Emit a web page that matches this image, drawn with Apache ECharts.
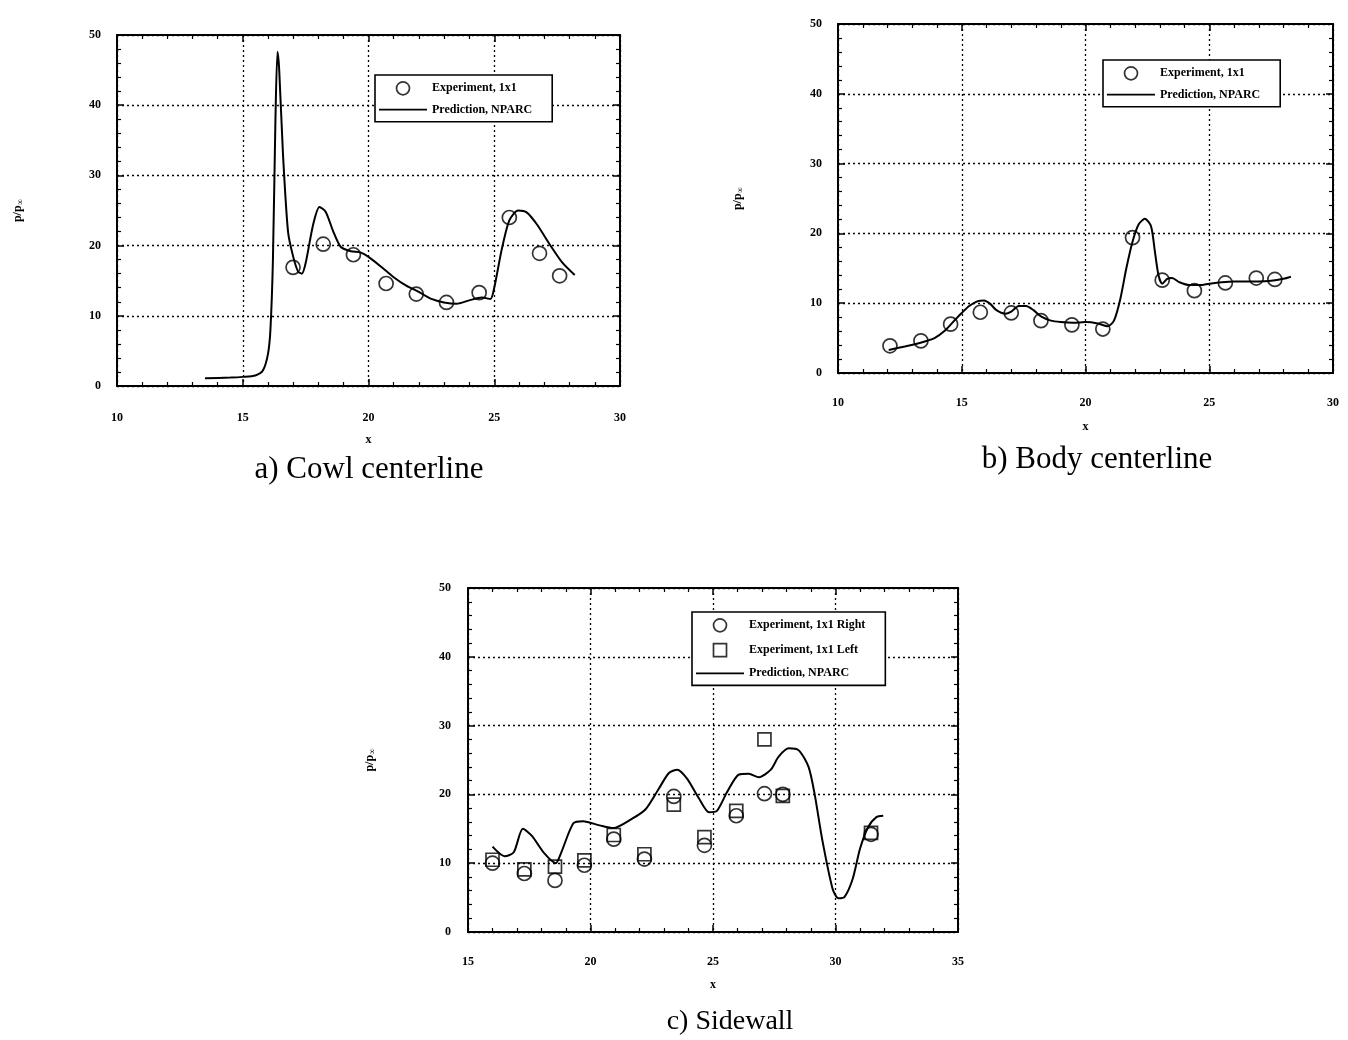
<!DOCTYPE html>
<html>
<head>
<meta charset="utf-8">
<script src="https://cdn.jsdelivr.net/npm/echarts@6/dist/echarts.min.js"></script>
<style>
html,body{margin:0;padding:0;background:#fff;}
#chart{width:1348px;height:1040px;}
</style>
</head>
<body>
<div id="chart"></div>
<script>
// ---- Panel a: Cowl centerline ----
const cowlExpX = [17.0, 18.2, 19.4, 20.7, 21.9, 23.1, 24.4, 25.6, 26.8, 27.6];
const cowlExpY = [16.9, 20.2, 18.7, 14.6, 13.1, 11.9, 13.3, 24.0, 18.9, 15.7];
const cowlPredX = [13.5, 14.5, 15.0, 15.5, 15.8, 16.0, 16.1, 16.2, 16.3, 16.38, 16.45, 16.6, 16.8, 17.0, 17.2, 17.35, 17.5, 17.8, 18.05, 18.3, 18.6, 18.9, 19.3, 19.7, 20.0, 20.5, 21.0, 21.5, 22.0, 22.5, 23.0, 23.5, 24.0, 24.5, 24.85, 25.0, 25.3, 25.6, 25.95, 26.3, 26.7, 27.2, 27.7, 28.2];
const cowlPredY = [1.1, 1.2, 1.3, 1.5, 2.2, 4.5, 8, 18, 38, 47.6, 45, 33, 22, 18.5, 16.3, 16.0, 17.5, 23, 25.5, 24.8, 22, 19.8, 19.2, 19.0, 18.4, 17.0, 15.5, 14.3, 13.4, 12.4, 11.9, 11.7, 12.2, 12.6, 12.4, 14, 19.5, 23.6, 25.0, 24.7, 23, 20.2, 17.6, 15.8];

// ---- Panel b: Body centerline ----
const bodyExpX = [12.1, 13.35, 14.55, 15.75, 17.0, 18.2, 19.45, 20.7, 21.9, 23.1, 24.4, 25.65, 26.9, 27.65];
const bodyExpY = [3.9, 4.6, 7.0, 8.7, 8.6, 7.5, 6.9, 6.3, 19.4, 13.3, 11.8, 12.9, 13.6, 13.4];
const bodyPredX = [12.05, 12.7, 13.3, 13.9, 14.3, 14.7, 15.0, 15.3, 15.65, 15.9, 16.15, 16.4, 16.75, 17.0, 17.3, 17.6, 17.9, 18.2, 18.6, 19.0, 19.5, 20.0, 20.5, 20.9, 21.15, 21.4, 21.65, 21.9, 22.15, 22.4, 22.65, 22.8, 22.95, 23.1, 23.3, 23.5, 23.8, 24.2, 24.6, 25.0, 25.5, 26.0, 26.5, 27.0, 27.5, 28.0, 28.3];
const bodyPredY = [3.3, 3.8, 4.3, 5.0, 6.0, 7.5, 8.6, 9.6, 10.3, 10.4, 9.9, 9.0, 8.5, 8.8, 9.6, 9.6, 9.0, 8.1, 7.5, 7.3, 7.2, 7.3, 7.1, 6.7, 7.5, 10.5, 15, 18.8, 21.3, 22.1, 21.0, 17.5, 14, 12.8, 13.5, 13.6, 13.0, 12.6, 12.6, 12.8, 13.0, 13.1, 13.1, 13.1, 13.2, 13.5, 13.8];

// ---- Panel c: Sidewall ----
const sideExpX = [16.0, 17.3, 18.55, 19.75, 20.95, 22.2, 23.4, 24.65, 25.95, 27.1, 27.85, 31.45];
const sideRightY = [10.0, 8.5, 7.5, 9.7, 13.5, 10.6, 19.7, 12.6, 16.9, 20.1, 20.0, 14.2];
const sideLeftY = [10.5, 9.1, 9.5, 10.4, 14.1, 11.3, 18.5, 13.8, 17.6, 28.0, 19.8, 14.4];
const sidePredX = [16.0, 16.5, 16.87, 17.24, 17.6, 18.1, 18.58, 18.8, 19.3, 19.7, 20.37, 20.93, 21.67, 22.24, 22.8, 23.2, 23.54, 23.94, 24.43, 24.84, 25.16, 25.57, 26.06, 26.46, 26.87, 27.36, 27.68, 28.09, 28.5, 28.9, 29.15, 29.47, 29.88, 30.12, 30.37, 30.7, 31.0, 31.34, 31.67, 31.95];
const sidePredY = [12.4, 11.0, 11.6, 15.0, 14.0, 11.5, 10.0, 11.5, 15.8, 16.1, 15.5, 15.1, 16.4, 17.8, 20.9, 23.1, 23.6, 22.3, 19.4, 17.4, 17.6, 20.3, 22.9, 23.0, 22.5, 23.6, 25.5, 26.7, 26.4, 24.0, 20.0, 13.2, 6.3, 4.9, 5.1, 7.7, 12.1, 15.3, 16.7, 16.9];

// ---- Axis ranges / labels ----
const yRange = [0, 50, 10];
const xRangeA = [10, 30, 5];
const xRangeB = [10, 30, 5];
const xRangeC = [15, 35, 5];
const titles = ['a) Cowl centerline', 'b) Body centerline', 'c) Sidewall'];
const legendA = ['Experiment, 1x1', 'Prediction, NPARC'];
const legendC = ['Experiment, 1x1 Right', 'Experiment, 1x1 Left', 'Prediction, NPARC'];

const zip = (xs, ys) => xs.map((x, i) => [x, ys[i]]);
const FF = "'Liberation Serif', 'Times New Roman', serif";
const lblStyle = {color: '#000', fontFamily: FF, fontWeight: 'bold', fontSize: 12};

function xAxes(g, r, gap, margin) {
  return [{
    type: 'value', gridIndex: g, min: r[0], max: r[1], interval: r[2], position: 'bottom',
    axisLine: {show: true, onZero: false, lineStyle: {color: '#000', width: 2}},
    axisTick: {show: true, inside: true, length: 7, lineStyle: {color: '#000', width: 1.5}},
    minorTick: {show: true, splitNumber: 5, length: 4, lineStyle: {color: '#000', width: 1.2}},
    splitLine: {show: true, lineStyle: {color: '#000', type: [2, 3], width: 1.3}},
    axisLabel: Object.assign({margin: margin}, lblStyle),
    name: 'x', nameLocation: 'middle', nameGap: gap,
    nameTextStyle: {color: '#000', fontFamily: FF, fontWeight: 'bold', fontSize: 12}
  }, {
    type: 'value', gridIndex: g, min: r[0], max: r[1], interval: r[2], position: 'top',
    axisLine: {show: true, onZero: false, lineStyle: {color: '#000', width: 2}},
    axisTick: {show: true, inside: true, length: 7, lineStyle: {color: '#000', width: 1.5}},
    minorTick: {show: true, splitNumber: 5, length: 4, lineStyle: {color: '#000', width: 1.2}},
    splitLine: {show: false}, axisLabel: {show: false}
  }];
}
function yAxes(g, gap, margin) {
  return [{
    type: 'value', gridIndex: g, min: yRange[0], max: yRange[1], interval: yRange[2], position: 'left',
    axisLine: {show: true, onZero: false, lineStyle: {color: '#000', width: 2}},
    axisTick: {show: true, inside: true, length: 7, lineStyle: {color: '#000', width: 1.5}},
    minorTick: {show: true, splitNumber: 5, length: 4, lineStyle: {color: '#000', width: 1.2}},
    splitLine: {show: true, lineStyle: {color: '#000', type: [2, 3], width: 1.3}},
    axisLabel: Object.assign({margin: margin}, lblStyle),
    name: '{a|p/p}{s|∞}', nameLocation: 'middle', nameGap: gap, nameRotate: 90,
    nameTextStyle: {color: '#000', fontFamily: FF, fontWeight: 'bold', fontSize: 12,
      rich: {a: {fontFamily: FF, fontWeight: 'bold', fontSize: 12, lineHeight: 15},
             s: {fontFamily: FF, fontWeight: 'bold', fontSize: 9, lineHeight: 15, verticalAlign: 'bottom', padding: [6, 0, 0, 0]}}}
  }, {
    type: 'value', gridIndex: g, min: yRange[0], max: yRange[1], interval: yRange[2], position: 'right',
    axisLine: {show: true, onZero: false, lineStyle: {color: '#000', width: 2}},
    axisTick: {show: true, inside: true, length: 7, lineStyle: {color: '#000', width: 1.5}},
    minorTick: {show: true, splitNumber: 5, length: 4, lineStyle: {color: '#000', width: 1.2}},
    splitLine: {show: false}, axisLabel: {show: false}
  }];
}

const hollow = {color: 'rgba(255,255,255,0)', borderColor: '#000', borderWidth: 1.7};
function scatter(name, xi, xs, ys, sym) {
  return {name: name, type: 'scatter', xAxisIndex: xi, yAxisIndex: xi, data: zip(xs, ys),
    symbol: sym, symbolSize: sym === 'rect' ? 13 : 14, itemStyle: hollow, z: 5,
    emphasis: {disabled: true}};
}
function line(name, xi, xs, ys) {
  return {name: name, type: 'line', xAxisIndex: xi, yAxisIndex: xi, data: zip(xs, ys),
    symbol: 'none', smooth: 0.25, lineStyle: {color: '#000', width: 2}, itemStyle: {color: '#000'}, z: 4,
    emphasis: {disabled: true}};
}
const ICON_CIRCLE = 'circle';
const ICON_SQUARE = 'path://M0,0L12,0L12,12L0,12Z';
const ICON_LINE = 'path://M0,0L48,0L48,1.8L0,1.8Z';
function legendItem(name, icon) {
  if (icon === ICON_LINE) {
    return {name: name, icon: icon, itemStyle: {color: '#000', borderWidth: 0}};
  }
  return {name: name, icon: icon, itemStyle: {color: 'rgba(255,255,255,0)', borderColor: '#000', borderWidth: 1.7}};
}
function legend(items, left, top, gap) {
  return {show: true, orient: 'vertical', left: left, top: top, data: items, itemGap: gap,
    itemWidth: 48, itemHeight: 13, padding: [6, 20, 6, 4], selectedMode: false,
    backgroundColor: '#fff', borderColor: '#000', borderWidth: 1.6, borderRadius: 0,
    textStyle: {color: '#000', fontFamily: FF, fontWeight: 'bold', fontSize: 12}};
}

const option = {
  animation: false,
  backgroundColor: '#fff',
  grid: [
    {left: 117, top: 35, width: 503, height: 351},
    {left: 838, top: 24, width: 495, height: 349},
    {left: 468, top: 588, width: 490, height: 344}
  ],
  xAxis: [].concat(xAxes(0, xRangeA, 48, 26), xAxes(1, xRangeB, 48, 24), xAxes(2, xRangeC, 47, 24)),
  yAxis: [].concat(yAxes(0, 92, 16), yAxes(1, 93, 16), yAxes(2, 91, 17)),
  legend: [
    legend([legendItem(legendA[0], ICON_CIRCLE), legendItem(legendA[1], ICON_LINE)], 375, 75, 8),
    legend([legendItem(legendA[0], ICON_CIRCLE), legendItem(legendA[1], ICON_LINE)], 1103, 60, 8),
    legend([legendItem(legendC[0], ICON_CIRCLE), legendItem(legendC[1], ICON_SQUARE), legendItem(legendC[2], ICON_LINE)], 692, 612, 10)
  ],
  graphic: [
    {type: 'text', x: 369, y: 470, style: {text: titles[0], font: "31px 'Liberation Serif'", fill: '#000', textAlign: 'center', textVerticalAlign: 'middle'}},
    {type: 'text', x: 1097, y: 460, style: {text: titles[1], font: "31px 'Liberation Serif'", fill: '#000', textAlign: 'center', textVerticalAlign: 'middle'}},
    {type: 'text', x: 730, y: 1022, style: {text: titles[2], font: "28px 'Liberation Serif'", fill: '#000', textAlign: 'center', textVerticalAlign: 'middle'}}
  ],
  series: [
    scatter(legendA[0], 0, cowlExpX, cowlExpY, 'circle'),
    line(legendA[1], 0, cowlPredX, cowlPredY),
    scatter(legendA[0], 2, bodyExpX, bodyExpY, 'circle'),
    line(legendA[1], 2, bodyPredX, bodyPredY),
    scatter(legendC[0], 4, sideExpX, sideRightY, 'circle'),
    scatter(legendC[1], 4, sideExpX, sideLeftY, 'rect'),
    line(legendC[2], 4, sidePredX, sidePredY)
  ]
};
const chart = echarts.init(document.getElementById('chart'), null, {renderer: 'canvas'});
chart.setOption(option);
</script>
</body>
</html>
